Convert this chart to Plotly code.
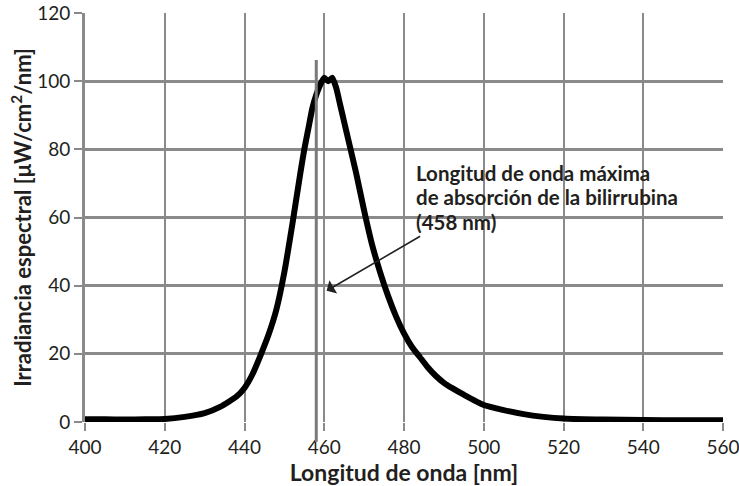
import plotly.graph_objects as go

wavelength = [400, 405, 410, 415, 420, 425, 430, 434, 438, 440, 442, 444, 446, 448, 450,
              452, 454, 455, 456, 457, 458, 459, 460, 461, 462, 463, 464, 465, 466, 468,
              470, 472, 474, 476, 478, 480, 482, 484, 486, 488, 490, 492, 495, 500, 505,
              510, 515, 520, 530, 540, 550, 560]
irradiance = [0.8, 0.8, 0.7, 0.8, 0.9, 1.5, 2.6, 4.5, 7.5, 10, 14, 19.5, 25.5, 33, 44,
              58, 73, 80, 86, 92, 96, 99, 101, 100, 101, 98, 93, 88, 83, 73,
              62, 52, 44, 37, 31, 26, 22, 19, 16, 13.5, 11.5, 10, 8, 5, 3.5,
              2.3, 1.5, 1.0, 0.7, 0.6, 0.5, 0.5]

x_ticks = [400, 420, 440, 460, 480, 500, 520, 540, 560]
y_ticks = [0, 20, 40, 60, 80, 100, 120]
bilirubin_peak = 458
note_lines = ["Longitud de onda máxima", "de absorción de la bilirrubina", "(458 nm)"]

FONT = "Lato"
GRID = "#8a8a8a"
TXT = "#231f20"

fig = go.Figure()
fig.add_trace(go.Scatter(x=wavelength, y=irradiance, mode="lines",
                         line=dict(color="black", width=6, shape="spline", smoothing=0.5),
                         hoverinfo="skip", showlegend=False))

# vertical marker for bilirubin absorption maximum
fig.add_shape(type="line", xref="x", yref="paper", x0=bilirubin_peak, x1=bilirubin_peak,
              y0=-0.048, y1=0.885, line=dict(color="#7a7a7a", width=3), layer="above")

# arrow
fig.add_annotation(x=460.6, y=38.5, ax=484.8, ay=55, xref="x", yref="y", axref="x", ayref="y",
                   text=" ", showarrow=True, arrowhead=1, arrowsize=1.6, arrowwidth=1.6,
                   arrowcolor="#222222")

for i, line in enumerate(note_lines):
    fig.add_annotation(x=482.4, y=77.3 - i * 7.3, xref="x", yref="y", text=line,
                       showarrow=False, xanchor="left", yanchor="top", align="left",
                       font=dict(family=FONT, size=20.5, color=TXT, weight="bold"))

fig.update_xaxes(range=[400, 560], tickvals=x_ticks, ticks="outside", ticklen=8, tickwidth=2,
                 tickcolor=GRID, showgrid=True, gridcolor=GRID, gridwidth=2, zeroline=False,
                 showline=False, automargin=False, ticklabeloverflow="allow",
                 tickfont=dict(family=FONT, size=19, color=TXT),
                 title=dict(text="Longitud de onda [nm]", standoff=4,
                            font=dict(family=FONT, size=23, color=TXT, weight="bold")))
fig.update_yaxes(range=[0, 120], tickvals=y_ticks, ticks="outside", ticklen=8, tickwidth=2,
                 tickcolor=GRID, showgrid=True, gridcolor=GRID, gridwidth=3, zeroline=False,
                 showline=True, linecolor=GRID, linewidth=3, automargin=False,
                 ticklabeloverflow="allow",
                 tickfont=dict(family=FONT, size=19, color=TXT),
                 title=dict(text="Irradiancia espectral [μW/cm<sup>2</sup>/nm]", standoff=0,
                            font=dict(family=FONT, size=22, color=TXT, weight="bold")))

fig.update_layout(width=739, height=486, plot_bgcolor="white", paper_bgcolor="white",
                  margin=dict(l=85, r=16, t=13, b=64))

# remove the default page margin so the figure fills the window exactly
fig.write_html("out.html", config={"displayModeBar": False},
               post_script="document.body.style.margin='0';")
